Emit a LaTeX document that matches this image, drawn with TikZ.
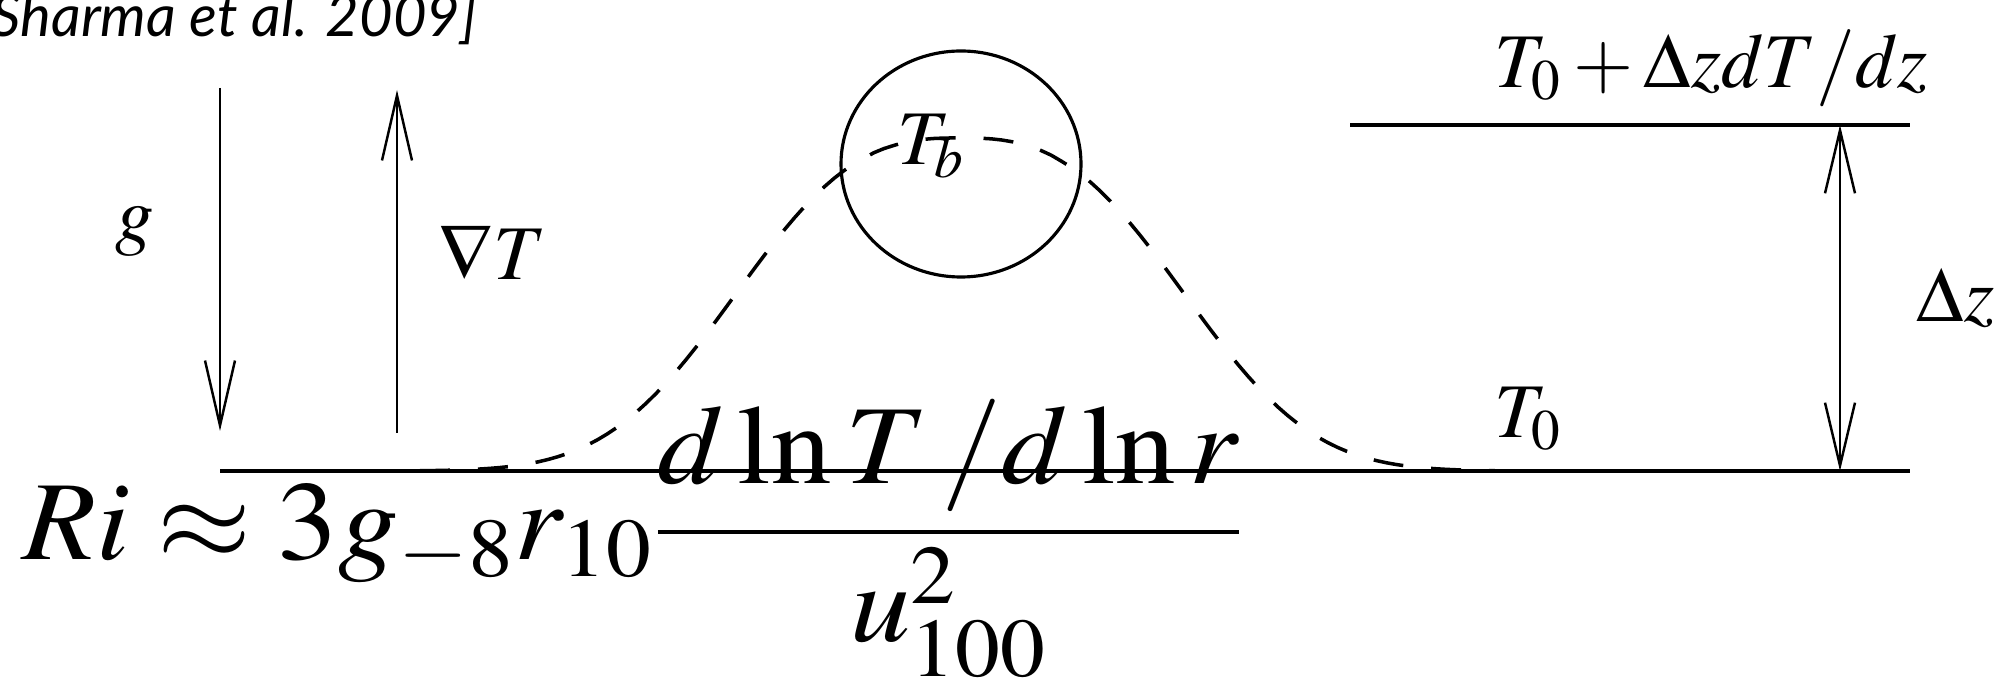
\documentclass[tikz,border=0pt]{standalone}
\usepackage{mathptmx}
\usepackage{fontspec}
\usetikzlibrary{arrows.meta}
\newfontfamily\citefont{Lato}

\begin{document}
\begin{tikzpicture}[
            lbl/.style={inner sep=0pt, font=\fontsize{22}{26}\selectfont},
            bigeq/.style={inner sep=0pt, font=\fontsize{32}{38}\selectfont},
            vec/.style={-{Straight Barb[length=6.5mm, width=3mm]}, line width=0.7pt},
            twoway/.style={{Straight Barb[length=6.3mm, width=3mm]}-{Straight Barb[length=6.3mm, width=3mm]}, line width=0.7pt},
            level/.style={line width=1.2pt},
            bubble/.style={line width=0.9pt},
            profile/.style={dash pattern=on 3mm off 2.8mm, line width=1pt}
        ]
            \useasboundingbox (0,0) rectangle (20.06,-6.82);

            % Citation
            \node[inner sep=0pt, anchor=base west, font=\citefont\itshape\fontsize{16.5}{19}\selectfont] (cite) at (-0.09,-0.37) {Sharma et al. 2009]};

            % Levels
            \coordinate (baseL) at (2.20,-4.71);
            \coordinate (baseR) at (19.10,-4.71);
            \coordinate (topL) at (13.50,-1.25);
            \coordinate (topR) at (19.10,-1.25);
            \draw[level] (baseL) -- (baseR);
            \draw[level] (topL) -- (topR);

            % Gravity and gradient
            \coordinate (gtail) at (2.20,-0.88);
            \coordinate (ghead) at (2.20,-4.31);
            \coordinate (Ttail) at (3.97,-4.33);
            \coordinate (Thead) at (3.97,-0.90);
            \draw[vec] (gtail) -- (ghead);
            \draw[vec] (Ttail) -- (Thead);
            \node[lbl, anchor=base] (glbl) at (1.345,-2.41) {$g$};
            \node[lbl, anchor=base west] (gradT) at (4.38,-2.80) {$\nabla T$};

            % Height step
            \coordinate (dzlow) at (18.40,-4.71);
            \coordinate (dzup) at (18.40,-1.25);
            \draw[twoway] (dzlow) -- (dzup);
            \node[lbl, anchor=base west] (dz) at (19.16,-3.22) {$\Delta z$};
            \node[lbl, anchor=base west] (topT) at (14.94,-0.88) {$T_0+\Delta z dT/dz$};
            \node[lbl, anchor=base west] (lowT) at (14.94,-4.38) {$T_0$};

            % Blob and profile
            \draw[bubble] (9.61,-1.64) ellipse [x radius=1.20, y radius=1.13];
            \node[lbl, anchor=base west] (Tb) at (8.97,-1.65) {$T_b$};
            \draw[profile] plot[domain=-5.4:5.35, samples=110] ({9.60+\x},{-4.71+3.33*exp(-((\x*\x+0.0001)/7.0225)^1.375)});

            % Richardson number
            \node[bigeq, anchor=base west] (ri) at (0.22,-5.60) {\scalebox{1.075}[1]{$\displaystyle Ri\approx 3g_{-8}r_{10}\frac{d\ln T\,/d\ln r}{u_{100}^2}$}};

        \end{tikzpicture}
\end{document}
